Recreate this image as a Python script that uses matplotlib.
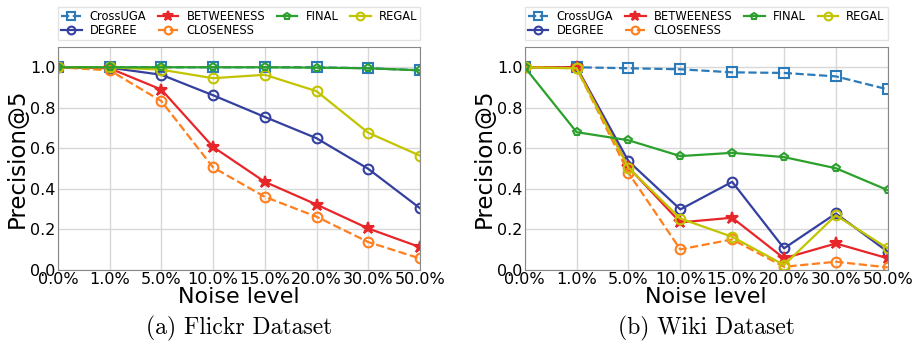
import matplotlib
matplotlib.use("Agg")
import matplotlib.pyplot as plt
from matplotlib.ticker import FormatStrFormatter
import numpy as np

noise_levels = ["0.0%", "1.0%", "5.0%", "10.0%", "15.0%", "20.0%", "30.0%", "50.0%"]
methods = ["CrossUGA", "DEGREE", "BETWEENESS", "CLOSENESS", "FINAL", "REGAL"]

flickr_crossuga = [1.0, 1.0, 1.0, 1.0, 1.0, 1.0, 0.995, 0.985]
flickr_degree = [1.0, 0.998, 0.963, 0.862, 0.755, 0.650, 0.499, 0.305]
flickr_betweeness = [1.0, 0.995, 0.890, 0.607, 0.435, 0.323, 0.205, 0.113]
flickr_closeness = [1.0, 0.985, 0.833, 0.506, 0.361, 0.263, 0.138, 0.057]
flickr_final = [1.0, 1.0, 1.0, 1.0, 1.0, 0.998, 0.995, 0.985]
flickr_regal = [1.0, 1.0, 0.988, 0.946, 0.963, 0.882, 0.677, 0.564]

wiki_crossuga = [1.0, 1.0, 0.995, 0.990, 0.975, 0.972, 0.955, 0.891]
wiki_degree = [1.0, 1.0, 0.537, 0.299, 0.435, 0.107, 0.279, 0.090]
wiki_betweeness = [1.0, 1.0, 0.507, 0.235, 0.258, 0.058, 0.131, 0.058]
wiki_closeness = [1.0, 0.995, 0.479, 0.102, 0.151, 0.016, 0.041, 0.013]
wiki_final = [1.0, 0.680, 0.640, 0.562, 0.578, 0.557, 0.502, 0.394]
wiki_regal = [1.0, 0.995, 0.505, 0.254, 0.164, 0.025, 0.270, 0.107]

panels = [
    ("(a) Flickr Dataset", [flickr_crossuga, flickr_degree, flickr_betweeness,
                            flickr_closeness, flickr_final, flickr_regal]),
    ("(b) Wiki Dataset", [wiki_crossuga, wiki_degree, wiki_betweeness,
                          wiki_closeness, wiki_final, wiki_regal]),
]

styles = {
    "CrossUGA": dict(color="#2b7bba", ls="--", marker="s", mfc="none", ms=6.5),
    "DEGREE": dict(color="#3340a0", ls="-", marker="o", mfc="none", ms=7),
    "BETWEENESS": dict(color="#e8262a", ls="-", marker="*", mfc="#e8262a", ms=9),
    "CLOSENESS": dict(color="#ff7f1e", ls="--", marker="o", mfc="none", ms=7),
    "FINAL": dict(color="#2ca02c", ls="-", marker="p", mfc="none", ms=6),
    "REGAL": dict(color="#c2c400", ls="-", marker="o", mfc="none", ms=7),
}
# drawing order: CrossUGA underneath FINAL
draw_order = ["CrossUGA", "DEGREE", "BETWEENESS", "CLOSENESS", "REGAL", "FINAL"]

fig = plt.figure(figsize=(9.19, 3.48), dpi=100)
axes_pos = [[0.063, 0.224, 0.394, 0.641], [0.571, 0.224, 0.395, 0.641]]

x = np.arange(len(noise_levels))
for pos, (caption, series) in zip(axes_pos, panels):
    ax = fig.add_axes(pos)
    data = dict(zip(methods, series))
    handles = {}
    for name in draw_order:
        st = styles[name]
        h, = ax.plot(x, data[name], color=st["color"], linestyle=st["ls"],
                     marker=st["marker"], markerfacecolor=st["mfc"],
                     markeredgecolor=st["color"], markersize=st["ms"],
                     markeredgewidth=1.5, linewidth=1.6, label=name)
        handles[name] = h
    ax.set_xlim(0, len(noise_levels) - 1)
    ax.set_ylim(0, 1.1)
    ax.set_xticks(x)
    ax.set_xticklabels(noise_levels)
    ax.set_yticks([0.0, 0.2, 0.4, 0.6, 0.8, 1.0])
    ax.yaxis.set_major_formatter(FormatStrFormatter("%.1f"))
    ax.tick_params(axis="both", labelsize=11.5, length=0, pad=1.5)
    ax.grid(True, color="#d8d8d8", linewidth=1.0)
    ax.set_axisbelow(True)
    for sp in ax.spines.values():
        sp.set_color("#888888")
    ax.set_xlabel("Noise level", fontsize=16, labelpad=0)
    ax.set_ylabel("Precision@5", fontsize=16.5, labelpad=1)
    ax.legend([handles[m] for m in methods], methods, ncol=4, mode="expand",
              loc="lower left", bbox_to_anchor=(0, 1.03, 1, 0.13),
              fontsize=8.3, frameon=True, edgecolor="#dddddd", fancybox=False,
              handlelength=1.8, handletextpad=0.7, columnspacing=0.8,
              borderaxespad=0, labelspacing=0.15, borderpad=0.25,
              markerscale=0.8)
    ax.text(0.5, -0.26, caption, transform=ax.transAxes, ha="center",
            va="center", fontsize=17, family="cmr10")

fig.savefig("out.png", dpi=100)
